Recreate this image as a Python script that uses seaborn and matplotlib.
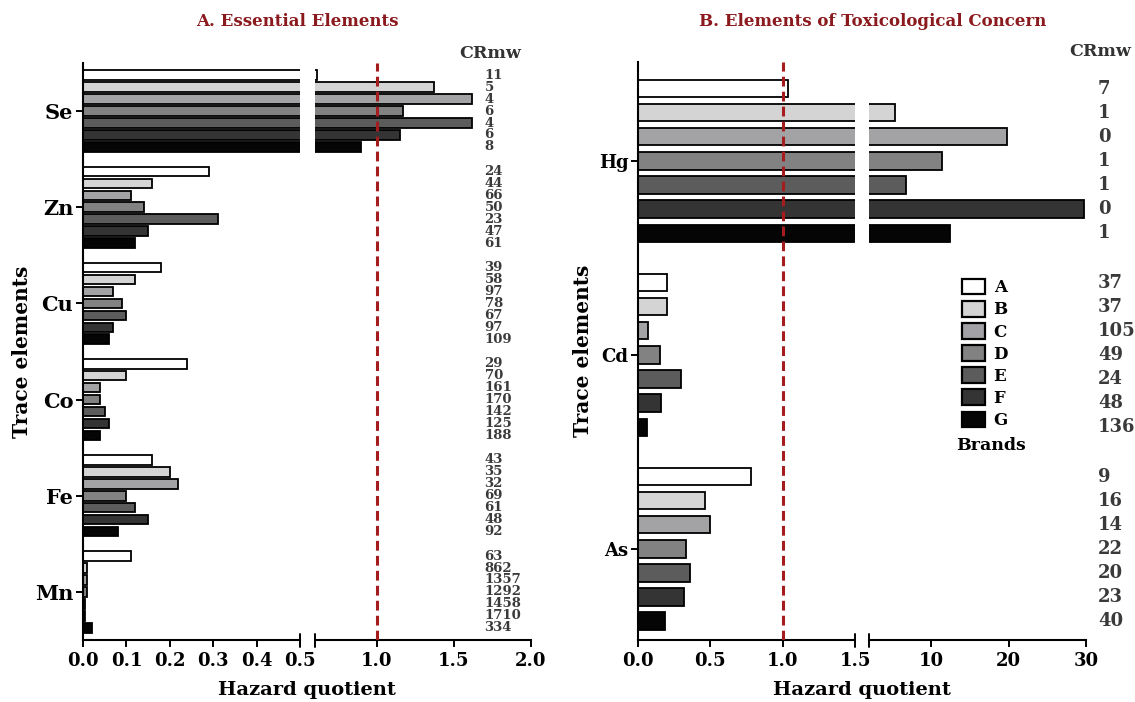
import matplotlib
matplotlib.use("Agg")
import numpy as np
import pandas as pd
import matplotlib.pyplot as plt
import matplotlib.transforms as mtransforms
import seaborn as sns
from matplotlib.patches import Patch

# Brands and grey shades
brands = ["A", "B", "C", "D", "E", "F", "G"]
brand_colors = ["#ffffff", "#d4d4d4", "#a2a2a6", "#828282", "#5c5c5c", "#343434", "#050505"]

# A. Essential elements - hazard quotient per brand
essential = ["Se", "Zn", "Cu", "Co", "Fe", "Mn"]
hq_se = [0.61, 1.37, 1.62, 1.17, 1.62, 1.15, 0.90]
hq_zn = [0.29, 0.16, 0.11, 0.14, 0.31, 0.15, 0.12]
hq_cu = [0.18, 0.12, 0.07, 0.09, 0.10, 0.07, 0.06]
hq_co = [0.24, 0.10, 0.04, 0.04, 0.05, 0.06, 0.04]
hq_fe = [0.16, 0.20, 0.22, 0.10, 0.12, 0.15, 0.08]
hq_mn = [0.11, 0.01, 0.01, 0.01, 0.005, 0.005, 0.02]

# CRmw for essential elements
cr_se = [11, 5, 4, 6, 4, 6, 8]
cr_zn = [24, 44, 66, 50, 23, 47, 61]
cr_cu = [39, 58, 97, 78, 67, 97, 109]
cr_co = [29, 70, 161, 170, 142, 125, 188]
cr_fe = [43, 35, 32, 69, 61, 48, 92]
cr_mn = [63, 862, 1357, 1292, 1458, 1710, 334]

# B. Elements of toxicological concern
toxic = ["Hg", "Cd", "As"]
hq_hg = [1.04, 5.3, 19.8, 11.4, 6.8, 29.7, 12.5]
hq_cd = [0.20, 0.20, 0.07, 0.15, 0.30, 0.16, 0.06]
hq_as = [0.78, 0.46, 0.50, 0.33, 0.36, 0.32, 0.19]

cr_hg = [7, 1, 0, 1, 1, 0, 1]
cr_cd = [37, 37, 105, 49, 24, 48, 136]
cr_as = [9, 16, 14, 22, 20, 23, 40]


def long_table(elements, values):
    rows = []
    for el, vals in zip(elements, values):
        for b, v in zip(brands, vals):
            rows.append({"element": el, "brand": b, "hq": v})
    return pd.DataFrame(rows)


df_a = long_table(essential, [hq_se, hq_zn, hq_cu, hq_co, hq_fe, hq_mn])
df_b = long_table(toxic, [hq_hg, hq_cd, hq_as])
cr_a = [cr_se, cr_zn, cr_cu, cr_co, cr_fe, cr_mn]
cr_b = [cr_hg, cr_cd, cr_as]

sns.set_style("white")
plt.rcParams["font.family"] = ["DejaVu Serif"]
plt.rcParams["font.weight"] = "bold"
plt.rcParams["axes.labelweight"] = "bold"
plt.rcParams["text.color"] = "black"
plt.rcParams["axes.labelcolor"] = "black"
plt.rcParams["xtick.color"] = "black"
plt.rcParams["ytick.color"] = "black"
plt.rcParams["axes.edgecolor"] = "black"

W, H = 1135, 702
fig = plt.figure(figsize=(W / 100, H / 100), dpi=100)
RED = "#a51c1f"
NUMGREY = "#3a3a3a"


def rect(x0, x1, y0, y1):
    return [x0 / W, 1 - y1 / H, (x1 - x0) / W, (y1 - y0) / H]


def draw_panel(df, order, rl, rr, ytop, lim_l, lim_r, ticks_l, ticks_r, ylim, gap,
               crs, cr_x, cr_size, vline_ax, title, title_x, crmw_xy, lbl_pad,
               ytick_size):
    ax_l = fig.add_axes(rect(rl[0], rl[1], ytop, 640))
    ax_r = fig.add_axes(rect(rr[0], rr[1], ytop, 640))
    for ax, lim in ((ax_l, lim_l), (ax_r, lim_r)):
        sns.barplot(data=df, x="hq", y="element", hue="brand", order=order,
                    hue_order=brands, palette=brand_colors, orient="h",
                    edgecolor="black", linewidth=1.3, width=0.87, gap=gap,
                    errorbar=None, legend=False, ax=ax)
        ax.set_xlim(*lim)
        ax.set_ylim(*ylim)
        ax.set_xlabel("")
        ax.tick_params(axis="x", direction="out", length=5, width=1.4,
                       labelsize=13, pad=4, bottom=True)
        for s in ("top", "right"):
            ax.spines[s].set_visible(False)
        ax.spines["bottom"].set_linewidth(1.5)
    ax_l.set_xticks(ticks_l)
    ax_l.set_xticklabels([f"{t:.1f}" for t in ticks_l])
    ax_r.set_xticks(ticks_r)
    ax_r.set_xticklabels([f"{t:.1f}" if t < 5 else f"{t:.0f}" for t in ticks_r])
    ax_l.spines["left"].set_linewidth(1.5)
    ax_l.tick_params(axis="y", direction="out", length=5, width=1.4,
                     labelsize=ytick_size, left=True, pad=2)
    ax_l.set_ylabel("Trace elements", fontsize=14.5, labelpad=lbl_pad)
    ax_r.spines["left"].set_visible(False)
    ax_r.set_yticks([])
    ax_r.set_ylabel("")
    # break marks
    ax_l.plot([1, 1], [-0.012, 0.01], transform=ax_l.transAxes, color="black",
              lw=1.4, clip_on=False)
    ax_r.plot([0, 0], [-0.012, 0.01], transform=ax_r.transAxes, color="black",
              lw=1.4, clip_on=False)
    # threshold line
    target = ax_l if vline_ax == "l" else ax_r
    target.axvline(1.0, color=RED, ls=(0, (3.2, 1.7)), lw=2.2, zorder=6)
    # CRmw labels from bar positions
    tr = mtransforms.blended_transform_factory(ax_r.transAxes, ax_r.transData)
    for j, cont in enumerate(ax_r.containers):
        for i, bar in enumerate(cont):
            yc = bar.get_y() + bar.get_height() / 2
            ax_r.text(cr_x, yc, str(crs[i][j]), transform=tr, ha="left",
                      va="center", fontsize=cr_size, color=NUMGREY,
                      clip_on=False)
    fig.text(crmw_xy[0] / W, 1 - crmw_xy[1] / H, "CRmw", ha="center",
             va="center", fontsize=12.5, color="#333333")
    fig.text(title_x / W, 1 - 22 / H, title, ha="center", va="center",
             fontsize=12, color="#8b1a1e")
    fig.text((rl[0] + rr[1]) / 2 / W, 1 - 690 / H, "Hazard quotient",
             ha="center", va="center", fontsize=14)
    return ax_l, ax_r


draw_panel(df_a, essential, (83, 300), (315, 531), 63, (0, 0.5), (0.6, 2.0),
           [0.0, 0.1, 0.2, 0.3, 0.4, 0.5], [1.0, 1.5, 2.0], (5.5, -0.5), 0.2,
           cr_a, 0.785, 9.5, "r", "A. Essential Elements", 297, (490, 53), 2, 15)

bl, br = draw_panel(df_b, toxic, (638, 855), (869, 1086), 62, (0, 1.5), (2, 30),
                    [0.0, 0.5, 1.0, 1.5], [10, 20, 30], (2.47, -0.51), 0.28,
                    cr_b, 1.055, 13, "l", "B. Elements of Toxicological Concern",
                    873, (1100, 52), 4, 13)

handles = [Patch(facecolor=c, edgecolor="black", linewidth=1.6) for c in brand_colors]
fig.legend(handles, brands, loc="upper left", bbox_to_anchor=(962 / W, 1 - 279 / H),
           frameon=False, fontsize=12, handlelength=1.4, handleheight=1.05,
           handletextpad=0.5, labelspacing=0.28, borderpad=0, borderaxespad=0)
fig.text(991 / W, 1 - 445 / H, "Brands", ha="center", va="center", fontsize=12.5)

fig.savefig("out.png", dpi=100)
